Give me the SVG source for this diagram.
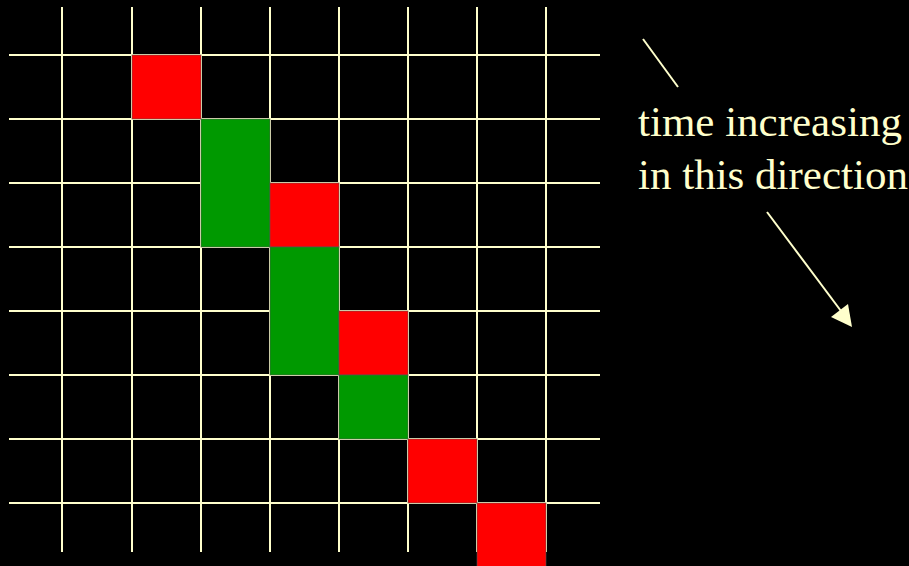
<svg xmlns="http://www.w3.org/2000/svg" width="909" height="566" viewBox="0 0 909 566">
<defs>
<style>
.grid line{stroke:#FFFFCC;stroke-width:2}
.red{fill:#FF0000;stroke:#555;stroke-width:0.6}
.green{fill:#009900;stroke:#555;stroke-width:0.6}
.lbl{font-family:"Liberation Serif","Times New Roman",serif;font-size:43px;fill:#FFFFCC}
.conn{stroke:#FFFFCC;stroke-width:2;fill:none}
.head{fill:#FFFFCC}
</style>
</defs>
<rect x="0" y="0" width="909" height="566" fill="#000"/>
<g id="grid" class="grid">
<line x1="62" y1="7" x2="62" y2="552"/>
<line x1="132" y1="7" x2="132" y2="552"/>
<line x1="201" y1="7" x2="201" y2="552"/>
<line x1="270" y1="7" x2="270" y2="552"/>
<line x1="339" y1="7" x2="339" y2="552"/>
<line x1="408" y1="7" x2="408" y2="552"/>
<line x1="477" y1="7" x2="477" y2="552"/>
<line x1="546" y1="7" x2="546" y2="552"/>
<line x1="9" y1="55" x2="600" y2="55"/>
<line x1="9" y1="119" x2="600" y2="119"/>
<line x1="9" y1="183" x2="600" y2="183"/>
<line x1="9" y1="247" x2="600" y2="247"/>
<line x1="9" y1="311" x2="600" y2="311"/>
<line x1="9" y1="375" x2="600" y2="375"/>
<line x1="9" y1="439" x2="600" y2="439"/>
<line x1="9" y1="503" x2="600" y2="503"/>
</g>
<g id="cells">
<rect id="r1" class="red" x="132" y="55" width="69" height="64"/>
<rect id="g1" class="green" x="201" y="119" width="69" height="128"/>
<rect id="r2" class="red" x="270" y="183" width="69" height="64"/>
<rect id="g2" class="green" x="270" y="247" width="69" height="128"/>
<rect id="r3" class="red" x="339" y="311" width="69" height="64"/>
<rect id="g3" class="green" x="339" y="375" width="69" height="64"/>
<rect id="r4" class="red" x="408" y="439" width="69" height="64"/>
<rect id="r5" class="red" x="477" y="503" width="69" height="64"/>
</g>
<g id="label">
<text class="lbl" x="638" y="136">time increasing</text>
<text class="lbl" x="638" y="189">in this direction</text>
</g>
<g id="connectors">
<line class="conn" x1="643" y1="39" x2="678" y2="87"/>
<line class="conn" x1="767" y1="212" x2="841" y2="311"/>
<polygon class="head" points="852,327 831,317 848,304"/>
</g>
</svg>
